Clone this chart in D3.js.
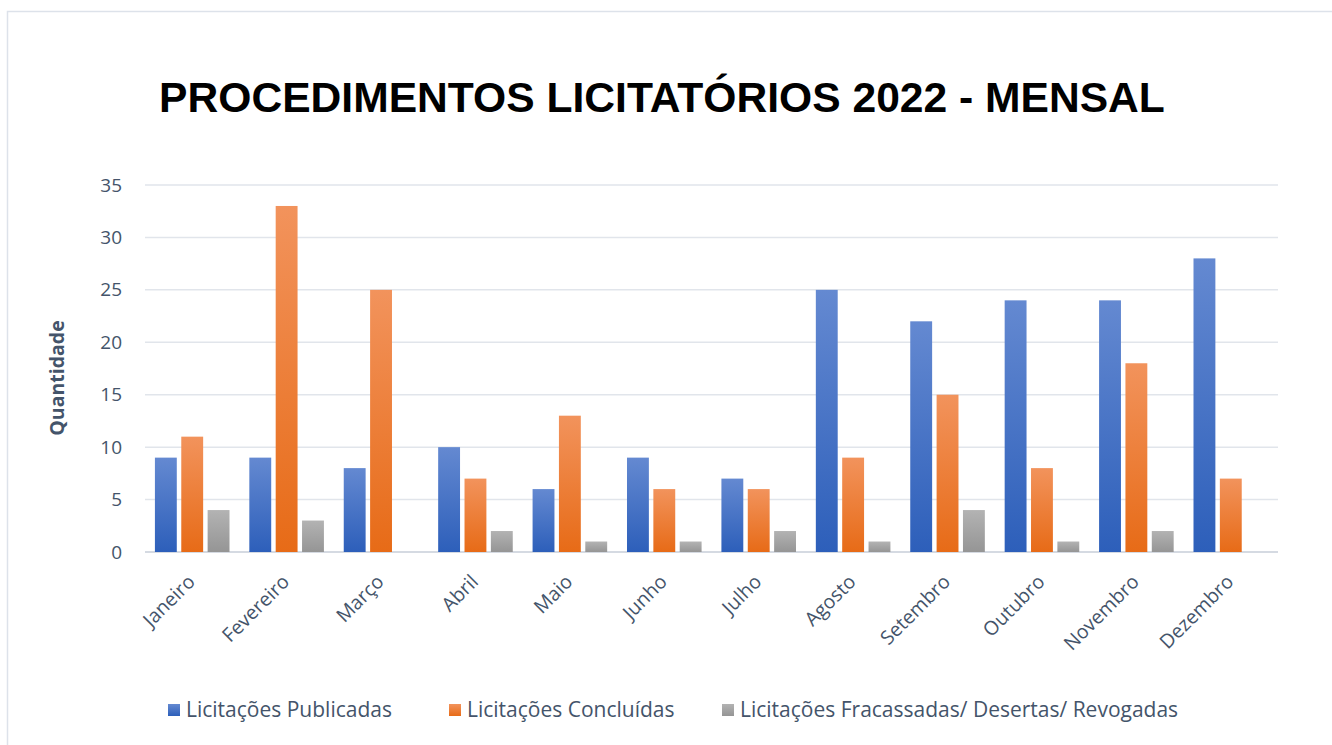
<!DOCTYPE html>
<html>
<head>
<meta charset="utf-8">
<script src="https://cdnjs.cloudflare.com/ajax/libs/d3/7.8.5/d3.min.js"></script>
<style>
  body { margin: 0; background: #fff; }
  svg { display: block; }
</style>
</head>
<body>
<div id="chart"></div>
<script>
const width = 1332;
const height = 745;
const margin = {top: 185, right: 54, bottom: 193, left: 145};

const meses = ["Janeiro", "Fevereiro", "Março", "Abril", "Maio", "Junho",
               "Julho", "Agosto", "Setembro", "Outubro", "Novembro", "Dezembro"];
const series = ["Licitações Publicadas", "Licitações Concluídas",
                "Licitações Fracassadas/ Desertas/ Revogadas"];
const publicadas = [9, 9, 8, 10, 6, 9, 7, 25, 22, 24, 24, 28];
const concluidas = [11, 33, 25, 7, 13, 6, 6, 9, 15, 8, 18, 7];
const fracassadas = [4, 3, 0, 2, 1, 1, 2, 1, 4, 1, 2, 0];
const yTicks = [0, 5, 10, 15, 20, 25, 30, 35];

// gradient per series: top, bottom
const grads = [["#6489d1", "#2d5fba"], ["#f2935c", "#e76b17"], ["#b3b3b3", "#959595"]];
const textColor = "#44546a";

const values = [publicadas, concluidas, fracassadas];
const rows = [];
meses.forEach((m, i) => {
    values.forEach((v, s) => rows.push({mes: m, s: s, v: v[i]}));
});

const svg = d3.select("#chart").append("svg")
    .attr("width", width)
    .attr("height", height);

const defs = svg.append("defs");
grads.forEach((g, i) => {
    const lg = defs.append("linearGradient")
        .attr("id", "g" + i)
        .attr("x1", 0).attr("y1", 0).attr("x2", 0).attr("y2", 1);
    lg.append("stop").attr("offset", "0%").attr("stop-color", g[0]);
    lg.append("stop").attr("offset", "100%").attr("stop-color", g[1]);
});

// outer frame
svg.append("rect")
    .attr("x", 7.5).attr("y", 11.5)
    .attr("width", width).attr("height", height)
    .attr("fill", "none")
    .attr("stroke", "#dde2ea")
    .attr("stroke-width", 1.5);

svg.append("text")
    .attr("x", 662).attr("y", 112)
    .attr("text-anchor", "middle")
    .attr("font-family", "Liberation Sans, Arial, sans-serif")
    .attr("font-weight", "bold")
    .attr("font-size", 42.6)
    .attr("fill", "#000")
    .text("PROCEDIMENTOS LICITATÓRIOS 2022 - MENSAL");

const plotW = width - margin.left - margin.right;
const plotH = height - margin.top - margin.bottom;
const g = svg.append("g").attr("transform", `translate(${margin.left},${margin.top})`);

const x = d3.scaleBand().domain(meses).range([0, plotW]).paddingInner(0.21).paddingOuter(0.105);
const xs = d3.scaleBand().domain([0, 1, 2]).range([0, x.bandwidth()]).paddingInner(0.17);
const y = d3.scaleLinear().domain([0, 35]).range([plotH, 0]);

// gridlines
g.append("g")
    .selectAll("line")
    .data(yTicks)
    .enter()
    .append("line")
    .attr("x1", 0).attr("x2", plotW)
    .attr("y1", d => y(d)).attr("y2", d => y(d))
    .attr("stroke", d => d === 0 ? "#d5dae2" : "#e1e5eb")
    .attr("stroke-width", d => d === 0 ? 2 : 1.5);

// y axis labels
const yAxis = g.append("g")
    .attr("transform", "translate(-23,0)")
    .call(d3.axisLeft(y).tickValues(yTicks).tickSize(0).tickPadding(0));
yAxis.select(".domain").remove();
yAxis.selectAll("text")
    .attr("font-family", "Open Sans, Noto Sans, sans-serif")
    .attr("font-size", 19)
    .attr("fill", textColor);

// bars
g.selectAll("rect.bar")
    .data(rows.filter(d => d.v > 0))
    .enter()
    .append("rect")
    .attr("class", "bar")
    .attr("x", d => x(d.mes) + xs(d.s))
    .attr("y", d => y(d.v))
    .attr("width", xs.bandwidth())
    .attr("height", d => plotH - y(d.v))
    .attr("fill", d => "url(#g" + d.s + ")");

// x axis labels
const xAxis = g.append("g")
    .attr("transform", `translate(0,${plotH})`)
    .call(d3.axisBottom(x).tickSize(0).tickPadding(0));
xAxis.select(".domain").remove();
xAxis.selectAll("text")
    .attr("font-family", "Open Sans, Noto Sans, sans-serif")
    .attr("font-size", 19.5)
    .attr("fill", textColor)
    .attr("text-anchor", "end")
    .attr("dy", 0)
    .attr("transform", "translate(4,31) rotate(-45)");

// y title
svg.append("text")
    .attr("transform", "translate(64,378) rotate(-90)")
    .attr("text-anchor", "middle")
    .attr("font-family", "Open Sans, Noto Sans, sans-serif")
    .attr("font-weight", "bold")
    .attr("font-size", 19.5)
    .attr("fill", textColor)
    .text("Quantidade");

// legend
const legendX = [168, 449, 722];
const legend = svg.append("g");
series.forEach((s, i) => {
    legend.append("rect")
        .attr("x", legendX[i]).attr("y", 704)
        .attr("width", 12).attr("height", 12)
        .attr("fill", "url(#g" + i + ")");
    legend.append("text")
        .attr("x", legendX[i] + 18).attr("y", 717)
        .attr("font-family", "Open Sans, Noto Sans, sans-serif")
        .attr("font-size", 21)
        .attr("fill", textColor)
        .text(s);
});
</script>
</body>
</html>
